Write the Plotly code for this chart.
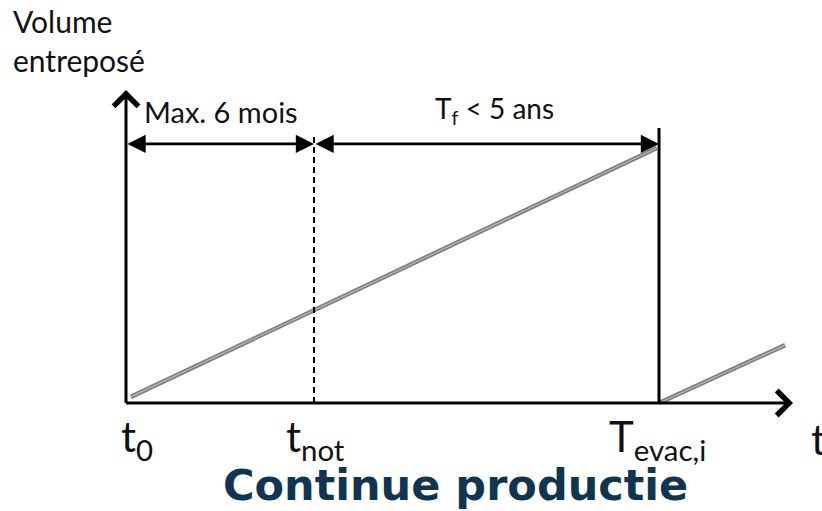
import plotly.graph_objects as go

# ---- data (arbitrary time / volume units) ----
t_marks = [0.0, 0.5, 1.4176]                 # t0, t_not, T_evac,i
t_labels = ["t<sub>0</sub>", "t<sub>not</sub>", "T<sub>evac,i</sub>"]
fill_t = [0.013, 1.412]                      # first storage cycle
fill_v = [0.024, 1.0]
next_t = [1.4176, 1.753]                     # next cycle after evacuation
next_v = [0.0, 0.227]
x_axis_end = 1.774
y_axis_end = 1.227
span_y = 1.016
span_labels = ["Max. 6 mois", "T<sub>f</sub> < 5 ans"]
dashed_top = 1.051
evac_top = 1.078

FONT = "Lato, Carlito, 'Open Sans', sans-serif"

fig = go.Figure()

# gray "double" line for stored volume
for xs, ys in [(fill_t, fill_v), (next_t, next_v)]:
    fig.add_trace(go.Scatter(x=xs, y=ys, mode="lines",
                             line=dict(color="#7f7f7f", width=4.5),
                             hoverinfo="skip", showlegend=False))
    fig.add_trace(go.Scatter(x=xs, y=ys, mode="lines",
                             line=dict(color="#b8b8b8", width=1.2),
                             hoverinfo="skip", showlegend=False))

# vertical markers
fig.add_shape(type="line", x0=t_marks[1], x1=t_marks[1], y0=0, y1=dashed_top,
              line=dict(color="black", width=2, dash="6px,4px"))
fig.add_shape(type="line", x0=t_marks[2], x1=t_marks[2], y0=0, y1=evac_top,
              line=dict(color="black", width=3))

# axes with arrows
fig.add_annotation(x=x_axis_end, y=0, ax=t_marks[0] - 0.004, ay=0,
                   xref="x", yref="y", axref="x", ayref="y", text="",
                   showarrow=True, arrowhead=4, arrowsize=1.6, arrowwidth=3, arrowcolor="black")
fig.add_annotation(x=t_marks[0], y=y_axis_end, ax=t_marks[0], ay=-0.006,
                   xref="x", yref="y", axref="x", ayref="y", text="",
                   showarrow=True, arrowhead=4, arrowsize=1.6, arrowwidth=3, arrowcolor="black")

# double-headed span arrows
for a, b in [(t_marks[0], t_marks[1]), (t_marks[1], t_marks[2])]:
    fig.add_annotation(x=b, y=span_y, ax=a, ay=span_y,
                       xref="x", yref="y", axref="x", ayref="y", text="",
                       showarrow=True, arrowhead=2, startarrowhead=2, arrowside="end+start",
                       arrowsize=1.4, startarrowsize=1.4, arrowwidth=2.6, arrowcolor="black")

# span labels
fig.add_annotation(x=0.253, y=1.145, xref="x", yref="y",
                   text=span_labels[0], showarrow=False,
                   font=dict(family=FONT, size=29, color="#111"))
fig.add_annotation(x=0.979, y=1.15, xref="x", yref="y",
                   text=span_labels[1], showarrow=False,
                   font=dict(family=FONT, size=28, color="#111"))

# tick labels
tick_x = [0.03, t_marks[1] + 0.005, t_marks[2] - 0.005]
for xv, lab in zip(tick_x, t_labels):
    fig.add_annotation(x=xv, y=-0.14, xref="x", yref="y", text=lab, showarrow=False,
                       font=dict(family=FONT, size=42, color="#111"))
fig.add_annotation(x=1.816, y=-0.14, xref="x", yref="y", text="t", showarrow=False,
                   xanchor="left", font=dict(family=FONT, size=42, color="#111"))

# y axis title
fig.add_annotation(x=11 / 822, y=1 - 41 / 511, xref="paper", yref="paper",
                   text="Volume<br>entreposé", showarrow=False, align="left",
                   xanchor="left", yanchor="middle",
                   font=dict(family=FONT, size=30, color="#111"))

# caption
fig.add_annotation(x=455 / 822, y=0, xref="paper", yref="paper",
                   text="<b>Continue productie</b>", showarrow=False,
                   xanchor="center", yanchor="bottom", yshift=-1,
                   font=dict(family="DejaVu Sans, Verdana, sans-serif", size=43, color="#12354F"))

fig.update_layout(
    width=822, height=511,
    margin=dict(l=0, r=0, t=0, b=0),
    paper_bgcolor="white", plot_bgcolor="white",
    xaxis=dict(range=[-126 / 376, (822 - 126) / 376], visible=False, fixedrange=True),
    yaxis=dict(range=[-(511 - 403) / 255, 403 / 255], visible=False, fixedrange=True),
)

fig.write_html("out.html", config={"displayModeBar": False},
               post_script="document.body.style.margin='0';document.body.style.overflow='hidden';")
